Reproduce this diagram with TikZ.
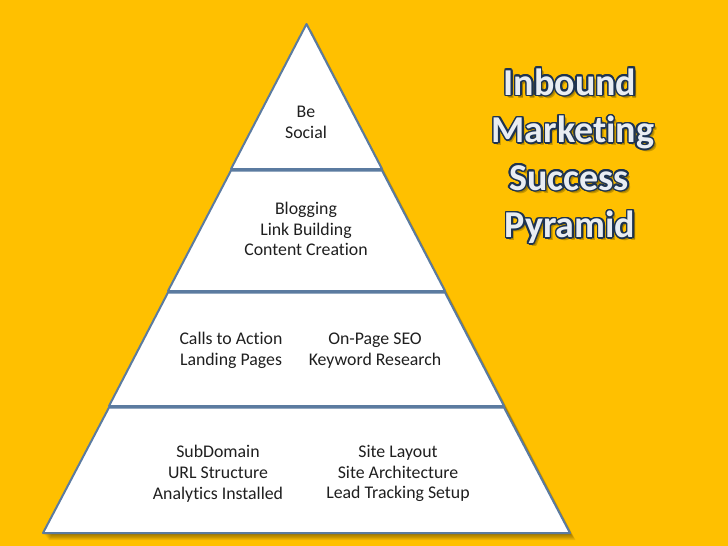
\documentclass[tikz,border=0pt]{standalone}
\usepackage{fontspec}
\setmainfont[Ligatures={NoCommon}]{Carlito}
\definecolor{bg}{HTML}{FFC000}
\definecolor{edge}{HTML}{5B7BA0}
\definecolor{titlefill}{HTML}{E9EDF2}
\definecolor{titleedge}{HTML}{1E3350}
\definecolor{ttlshade}{HTML}{C79800}
\newcommand\olword[1]{%
  \leavevmode
  \rlap{\kern3pt\raisebox{-3pt}{\textcolor{ttlshade}{#1}}}%
  \rlap{\kern2.2pt\raisebox{-2.2pt}{\textcolor{ttlshade!80!black}{#1}}}%
  \foreach \a in {0,22.5,...,337.5}{%
    \pgfmathsetmacro\dx{1.5*cos(\a)}%
    \pgfmathsetmacro\dy{1.5*sin(\a)}%
    \rlap{\kern\dx pt\raisebox{\dy pt}{\textcolor{titleedge}{#1}}}%
  }%
  \textcolor{titlefill}{#1}}
\tikzset{
  pyrlayer/.style={fill=white, draw=edge, line width=2pt, line join=round},
  txt/.style={font=\fontsize{17.8}{20.8}\selectfont, align=center, inner sep=0pt, text=black!88},
  ttl/.style={font=\fontsize{38}{44}\selectfont\bfseries, anchor=base, inner sep=0pt}
}
\begin{document}
\begin{tikzpicture}[x=1pt,y=-1pt]
\useasboundingbox (0,0) rectangle (728,546);
\fill[bg] (0,0) rectangle (728,546);
% shadow of pyramid
\foreach \i in {1,...,8}{
  \begin{scope}[shift={(\i*0.7,\i*0.9)}]
    \fill[black,opacity=0.06] (306.5,24) -- (570,533) -- (43,533) -- cycle;
  \end{scope}
}
% layers
\draw[pyrlayer] (306.5,24) -- (382,169) -- (231,169) -- cycle;
\draw[pyrlayer] (231,170.5) -- (382,170.5) -- (445,291) -- (168,291) -- cycle;
\draw[pyrlayer] (168,292.5) -- (445,292.5) -- (504,406) -- (109,406) -- cycle;
\draw[pyrlayer] (109,407.5) -- (504,407.5) -- (570,533) -- (43,533) -- cycle;
% texts
\node[txt] (social) at (306,122.5) {Be\\Social};
\node[txt] (blog) at (306,229) {Blogging\\Link Building\\Content Creation};
\node[txt] (calls) at (231,350.5) {Calls to Action\\Landing Pages};
\node[txt] (onpage) at (375,350.5) {On-Page SEO\\Keyword Research};
\node[txt] (sub) at (218,473.5) {SubDomain\\URL Structure\\Analytics Installed};
\node[txt] (site) at (398,473.5) {Site Layout\\Site Architecture\\Lead Tracking Setup};
% title
\node[ttl] (ta) at (570,95) {\olword{Inbound}};
\node[ttl] (tb) at (573,142.5) {\olword{Marketing}};
\node[ttl] (tc) at (569,190) {\olword{Success}};
\node[ttl] (td) at (570,237.5) {\olword{Pyramid}};
\end{tikzpicture}
\end{document}
